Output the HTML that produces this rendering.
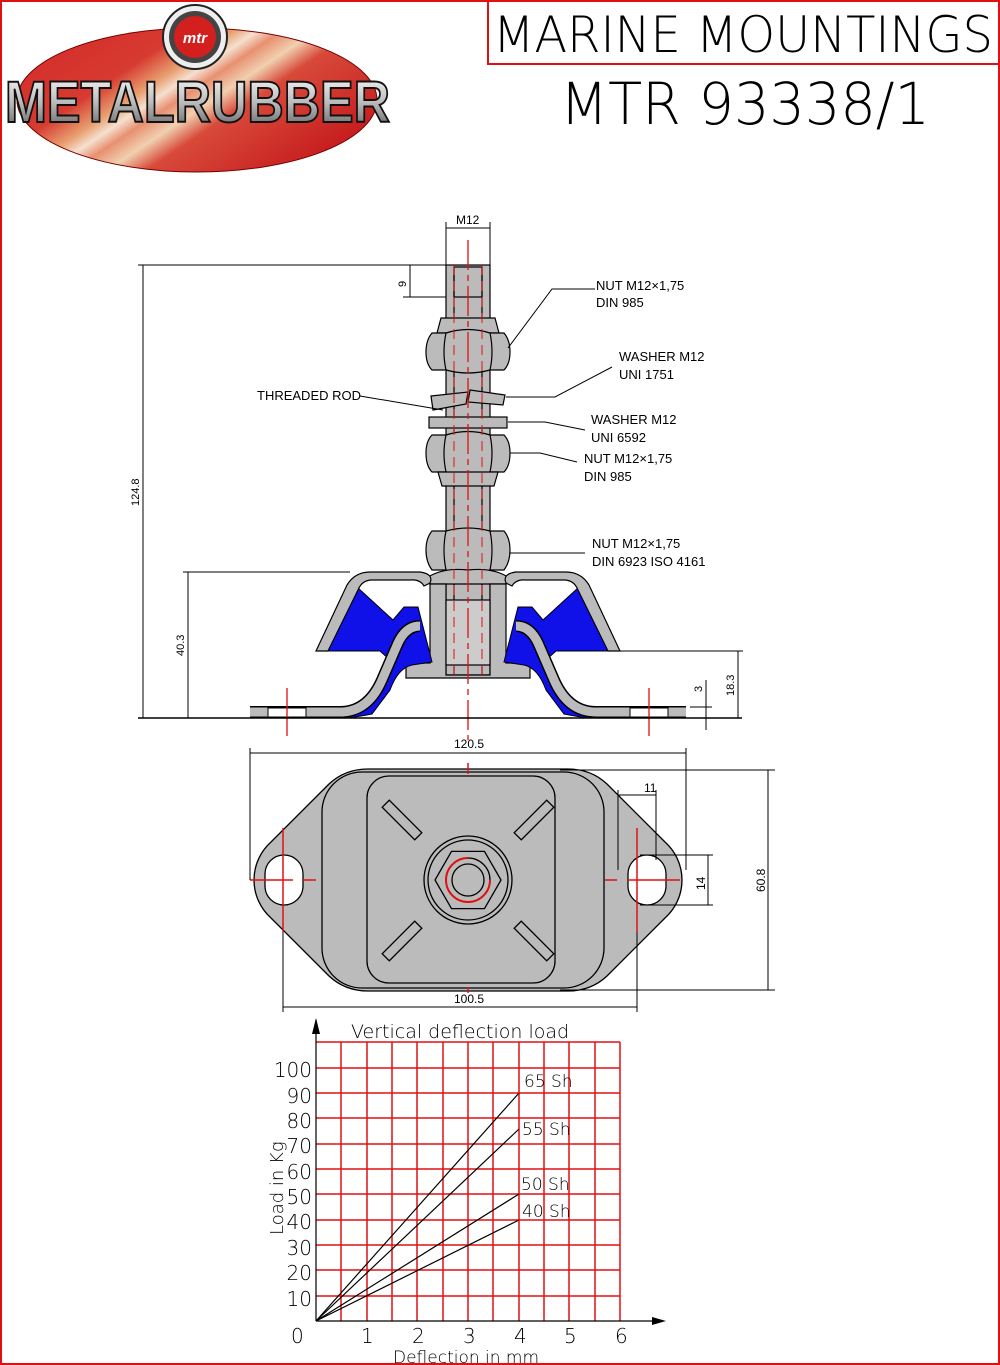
<!DOCTYPE html>
<html><head><meta charset="utf-8"><style>
html,body{margin:0;padding:0;background:#fff}
svg{display:block}
.t{font-family:"Liberation Sans Narrow","Liberation Sans",sans-serif;font-size:13px;fill:#000}
.c{font-family:"DejaVu Sans","Liberation Sans",sans-serif;font-weight:200;fill:#000}
</style></head><body>
<svg width="1000" height="1365" viewBox="0 0 1000 1365" xmlns="http://www.w3.org/2000/svg">
<defs>
<linearGradient id="rg" x1="0" y1="0" x2="1" y2="0.6">
<stop offset="0" stop-color="#d42a2a"/><stop offset="0.35" stop-color="#d63a30"/>
<stop offset="0.45" stop-color="#e8a070"/><stop offset="0.5" stop-color="#f5e0d0"/>
<stop offset="0.55" stop-color="#e89070"/><stop offset="0.62" stop-color="#f0d0b0"/>
<stop offset="0.7" stop-color="#d84a3a"/><stop offset="1" stop-color="#c82020"/>
</linearGradient>
<linearGradient id="sg" x1="0" y1="0" x2="0" y2="1">
<stop offset="0" stop-color="#fff"/><stop offset="0.5" stop-color="#bbb"/><stop offset="1" stop-color="#555"/>
</linearGradient>
</defs>
<rect x="1" y="1" width="998" height="1363" fill="none" stroke="#e01010" stroke-width="2"/>
<!-- logo -->
<ellipse cx="197" cy="100" rx="180" ry="72" fill="url(#rg)" stroke="#700" stroke-width="1"/>
<circle cx="195" cy="37" r="32" fill="#eee" stroke="#222" stroke-width="2"/>
<circle cx="195" cy="37" r="26" fill="#444"/>
<circle cx="195" cy="37" r="21" fill="#d41f1f"/>
<text x="195" y="43" text-anchor="middle" font-family="Liberation Sans" font-weight="bold" font-style="italic" font-size="15" fill="#fff">mtr</text>
<text x="5" y="122" textLength="385" lengthAdjust="spacingAndGlyphs" font-family="Liberation Sans" font-weight="bold" font-size="58" fill="url(#sg)" stroke="#111" stroke-width="2">METALRUBBER</text>
<!-- title -->
<rect x="488" y="1" width="511" height="63" fill="none" stroke="#e01010" stroke-width="2"/>
<text x="743" y="52" text-anchor="middle" class="c" font-size="50" textLength="500" lengthAdjust="spacingAndGlyphs">MARINE MOUNTINGS</text>
<text x="745" y="124" text-anchor="middle" class="c" font-size="58" textLength="370" lengthAdjust="spacingAndGlyphs">MTR 93338/1</text>

<!-- SIDE VIEW -->
<g stroke="#000" stroke-width="1.2" fill="#bbb">
<!-- rod -->
<rect x="446" y="265" width="44" height="410"/>
<line x1="454" y1="265" x2="454" y2="675"/><line x1="482" y1="265" x2="482" y2="675"/>
<rect x="454" y="267" width="28" height="30" fill="none"/>
<!-- top nut -->
<path d="M437,333 L441,318 L495,318 L499,333 Z"/>
<path d="M432,333 L504,333 Q510,340 510,352 Q510,364 504,370 L432,370 Q426,364 426,352 Q426,340 432,333 Z"/>
<path d="M446,333 Q468,326 490,333 Q494,352 490,370 Q468,376 446,370 Q442,352 446,333Z" fill="#bbb"/>
<!-- lock washer -->
<path d="M431,396 L468,392 L466,404 L433,410 Z"/>
<path d="M470,390 L505,395 L503,405 L468,402 Z"/>
<!-- flat washer -->
<rect x="429" y="417" width="78" height="11"/>
<!-- lower nut -->
<path d="M432,435 L504,435 Q510,441 510,453 Q510,466 504,472 L432,472 Q426,466 426,453 Q426,441 432,435 Z"/>
<path d="M446,435 Q468,428 490,435 Q494,453 490,472 Q468,478 446,472 Q442,453 446,435Z"/>
<path d="M438,472 L498,472 L494,486 L442,486 Z"/>
<!-- bottom nut -->
<path d="M432,531 L504,531 Q510,538 510,550 Q510,562 504,570 L432,570 Q426,562 426,550 Q426,538 432,531 Z"/>
<path d="M446,531 Q468,525 490,531 Q494,550 490,570 Q468,576 446,570 Q442,550 446,531Z"/>
<!-- flange collar -->
<path d="M424,580 Q440,567 468,570 Q496,567 512,580 L506,584 L430,584 Z"/>
<!-- center sleeve -->
<path d="M430,584 L446,584 L446,675 L490,675 L490,584 L506,584 L506,663 L530,663 L530,678 L406,678 L406,663 L430,663 Z"/>
<rect x="446" y="600" width="44" height="65" fill="#ccc"/>
</g>
<!-- rubber and plates, left and mirrored right -->
<g id="half">
<path d="M318,651 L357,587 L393,620 L404,607 L418,607 L432,662 L412,665 Q398,668 390,690 L372,714 L350,718 L345,712 Q370,705 382,680 L390,660 L380,651 Z" fill="#1010e8" stroke="#000" stroke-width="1"/>
<path d="M316,651 L347,585 Q355,572 370,572 L420,572 Q434,574 430,583 L424,586 Q420,579 410,580 L372,580 Q362,580 358,590 L328,651 Z" fill="#bbb" stroke="#000" stroke-width="1.2"/>
<path d="M250,712 L340,712 Q368,712 382,680 L398,643 Q406,626 420,626" fill="none" stroke="#000" stroke-width="12"/>
<path d="M250,712 L340,712 Q368,712 382,680 L398,643 Q406,626 420,626" fill="none" stroke="#bbb" stroke-width="9"/>
<rect x="268" y="708" width="38" height="9" fill="#fff" stroke="#000" stroke-width="1"/>
</g>
<use href="#half" transform="translate(936,0) scale(-1,1)"/>
<!-- center lines -->
<g stroke="#e01010" stroke-width="1.3">
<line x1="468" y1="240" x2="468" y2="740" stroke-dasharray="30,5,6,5"/>
<line x1="454" y1="265" x2="454" y2="675" stroke-dasharray="10,6" stroke-width="1"/>
<line x1="482" y1="265" x2="482" y2="675" stroke-dasharray="10,6" stroke-width="1"/>
<line x1="287" y1="688" x2="287" y2="736"/><line x1="649" y1="688" x2="649" y2="736"/>
</g>
<!-- dims side -->
<g stroke="#000" stroke-width="1" fill="none">
<line x1="138" y1="718" x2="742" y2="718" stroke-width="1.5"/>
<line x1="138" y1="265" x2="446" y2="265"/>
<line x1="143" y1="265" x2="143" y2="718"/>
<line x1="183" y1="572" x2="350" y2="572"/>
<line x1="188" y1="572" x2="188" y2="718"/>
<line x1="620" y1="651" x2="743" y2="651"/>
<line x1="738" y1="651" x2="738" y2="718"/>
<line x1="690" y1="707" x2="712" y2="707"/>
<line x1="706" y1="680" x2="706" y2="730"/>
<line x1="446" y1="222" x2="446" y2="265"/><line x1="490" y1="222" x2="490" y2="265"/>
<line x1="446" y1="228" x2="490" y2="228"/>
<line x1="403" y1="297" x2="446" y2="297"/>
<line x1="410" y1="265" x2="410" y2="297"/>
<!-- leaders -->
<polyline points="595,289 552,289 508,348"/>
<polyline points="612,367 555,397 506,397"/>
<polyline points="360,396 443,410"/>
<polyline points="585,430 545,422 508,422"/>
<polyline points="577,462 540,453 510,453"/>
<polyline points="585,553 510,553"/>
</g>
<g class="t">
<text x="456" y="224" font-size="12">M12</text>
<text x="596" y="290">NUT M12×1,75</text><text x="596" y="307">DIN 985</text>
<text x="619" y="361">WASHER M12</text><text x="619" y="379">UNI 1751</text>
<text x="257" y="400">THREADED ROD</text>
<text x="591" y="424">WASHER M12</text><text x="591" y="442">UNI 6592</text>
<text x="584" y="463">NUT M12×1,75</text><text x="584" y="481">DIN 985</text>
<text x="592" y="548">NUT M12×1,75</text><text x="592" y="566">DIN 6923 ISO 4161</text>
<text transform="translate(139,506) rotate(-90)" font-size="11">124.8</text>
<text transform="translate(184,656) rotate(-90)" font-size="11">40.3</text>
<text transform="translate(734,696) rotate(-90)" font-size="11">18.3</text>
<text transform="translate(702,692) rotate(-90)" font-size="11">3</text>
<text transform="translate(406,287) rotate(-90)" font-size="11">9</text>
</g>

<!-- TOP VIEW -->
<g stroke="#000" stroke-width="1.3">
<path d="M365,769 L565,769 Q588,769 604,784 L662,842 A51 51 0 0 1 662,918 L604,976 Q588,991 565,991 L365,991 Q342,991 326,976 L268,918 A51 51 0 0 1 268,842 L326,784 Q342,769 365,769 Z" fill="#bbb" transform="translate(3,0)"/>
<rect x="322" y="772" width="282" height="216" rx="40" fill="#bbb"/>
<rect x="367" y="776" width="188" height="207" rx="22" fill="#bbb"/>
<g fill="#bbb">
<rect x="-5" y="-23" width="10" height="46" transform="translate(402,820) rotate(-45)"/>
<rect x="-5" y="-23" width="10" height="46" transform="translate(534,820) rotate(45)"/>
<rect x="-5" y="-23" width="10" height="46" transform="translate(402,941) rotate(45)"/>
<rect x="-5" y="-23" width="10" height="46" transform="translate(534,941) rotate(-45)"/>
</g>
<circle cx="468" cy="880" r="44" fill="#bbb"/>
<circle cx="468" cy="880" r="40" fill="#bbb"/>
<polygon points="501,880 484.5,908.6 451.5,908.6 435,880 451.5,851.4 484.5,851.4" fill="#bbb"/>
<circle cx="468" cy="880" r="22" fill="#bbb"/>
<circle cx="468" cy="880" r="16" fill="#bbb"/>
<rect x="265" y="855" width="38" height="50" rx="19" fill="#fff"/>
<rect x="628" y="855" width="38" height="50" rx="19" fill="#fff"/>
</g>
<g stroke="#e01010" stroke-width="1.5" fill="none">
<path d="M468,858 A22 22 0 1 0 490,880" stroke-width="2"/>
<line x1="283" y1="828" x2="283" y2="932"/><line x1="250" y1="880" x2="293" y2="880"/><line x1="303" y1="880" x2="316" y2="880"/>
<line x1="637" y1="828" x2="637" y2="932"/><line x1="627" y1="880" x2="680" y2="880"/><line x1="605" y1="880" x2="617" y2="880"/>
<line x1="468" y1="763" x2="468" y2="774"/><line x1="468" y1="987" x2="468" y2="993"/>
</g>
<g stroke="#000" stroke-width="1" fill="none">
<line x1="250" y1="748" x2="250" y2="880"/><line x1="686" y1="748" x2="686" y2="870"/>
<line x1="250" y1="753" x2="686" y2="753"/>
<line x1="560" y1="770" x2="775" y2="770"/><line x1="560" y1="990" x2="775" y2="990"/>
<line x1="768" y1="770" x2="768" y2="990"/>
<line x1="640" y1="855" x2="713" y2="855"/><line x1="640" y1="905" x2="713" y2="905"/>
<line x1="708" y1="855" x2="708" y2="905"/>
<line x1="618" y1="790" x2="618" y2="870"/><line x1="656" y1="790" x2="656" y2="860"/>
<line x1="618" y1="795" x2="656" y2="795"/>
<line x1="283" y1="932" x2="283" y2="1012"/><line x1="637" y1="932" x2="637" y2="1012"/>
<line x1="283" y1="1007" x2="637" y2="1007"/>
</g>
<g class="t" font-size="11">
<text x="454" y="748" font-size="12">120.5</text>
<text x="454" y="1003" font-size="12">100.5</text>
<text x="644" y="792" font-size="12">11</text>
<text transform="translate(705,890) rotate(-90)" font-size="12">14</text>
<text transform="translate(765,892) rotate(-90)" font-size="12">60.8</text>
</g>

<!-- CHART -->
<g stroke="#e01010" stroke-width="1.5">
<line x1="341" y1="1042" x2="341" y2="1321"/><line x1="367" y1="1042" x2="367" y2="1321"/>
<line x1="392" y1="1042" x2="392" y2="1321"/><line x1="417" y1="1042" x2="417" y2="1321"/>
<line x1="443" y1="1042" x2="443" y2="1321"/><line x1="468" y1="1042" x2="468" y2="1321"/>
<line x1="493" y1="1042" x2="493" y2="1321"/><line x1="519" y1="1042" x2="519" y2="1321"/>
<line x1="544" y1="1042" x2="544" y2="1321"/><line x1="569" y1="1042" x2="569" y2="1321"/>
<line x1="595" y1="1042" x2="595" y2="1321"/><line x1="620" y1="1042" x2="620" y2="1321"/>
<line x1="316" y1="1042" x2="620" y2="1042"/><line x1="316" y1="1068" x2="620" y2="1068"/>
<line x1="316" y1="1093" x2="620" y2="1093"/><line x1="316" y1="1118" x2="620" y2="1118"/>
<line x1="316" y1="1144" x2="620" y2="1144"/><line x1="316" y1="1169" x2="620" y2="1169"/>
<line x1="316" y1="1194" x2="620" y2="1194"/><line x1="316" y1="1220" x2="620" y2="1220"/>
<line x1="316" y1="1245" x2="620" y2="1245"/><line x1="316" y1="1270" x2="620" y2="1270"/>
<line x1="316" y1="1296" x2="620" y2="1296"/>
</g>
<g stroke="#000" stroke-width="1.2" fill="none">
<line x1="316" y1="1321" x2="660" y2="1321"/><line x1="316" y1="1321" x2="316" y2="1020"/>
<line x1="316" y1="1321" x2="519" y2="1093"/><line x1="316" y1="1321" x2="519" y2="1129"/>
<line x1="316" y1="1321" x2="519" y2="1194"/><line x1="316" y1="1321" x2="519" y2="1220"/>
</g>
<path d="M316,1018 L312,1034 L320,1034 Z M666,1321 L652,1317 L652,1325 Z" fill="#000"/>
<g class="c" font-size="20">
<text x="351" y="1038" font-size="19">Vertical deflection load</text>
<g text-anchor="end">
<text x="312" y="1077">100</text><text x="312" y="1103">90</text><text x="312" y="1128">80</text>
<text x="312" y="1153">70</text><text x="312" y="1179">60</text><text x="312" y="1204">50</text>
<text x="312" y="1229">40</text><text x="312" y="1255">30</text><text x="312" y="1280">20</text>
<text x="312" y="1306">10</text></g>
<text x="291" y="1343">0</text>
<text x="361" y="1343">1</text><text x="412" y="1343">2</text><text x="463" y="1343">3</text>
<text x="514" y="1343">4</text><text x="564" y="1343">5</text><text x="615" y="1343">6</text>
<text x="524" y="1087" font-size="17">65 Sh</text><text x="522" y="1135" font-size="17">55 Sh</text>
<text x="521" y="1190" font-size="17">50 Sh</text><text x="522" y="1217" font-size="17">40 Sh</text>
<text x="393" y="1363" font-size="17">Deflection in mm</text>
<text transform="translate(283,1235) rotate(-90)" font-size="18">Load in Kg</text>
</g>
</svg>
</body></html>
